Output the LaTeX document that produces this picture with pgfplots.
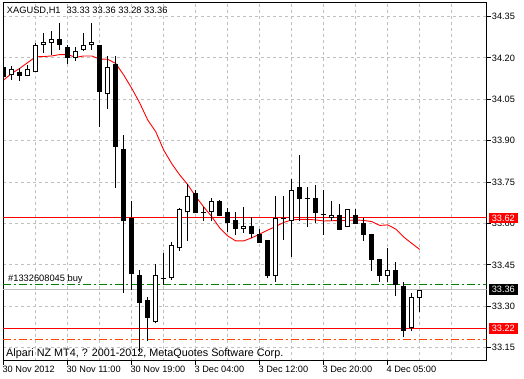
\documentclass[border=0pt]{standalone}
\usepackage{pgfplots}
\pgfplotsset{compat=1.18}
\usepackage{pgfplotstable}
\usepackage{fontspec}
\setmainfont{Liberation Sans}
\definecolor{mtgrid}{RGB}{192,192,192}
\definecolor{mtred}{RGB}{255,0,0}
\definecolor{mtgreen}{RGB}{0,128,0}
\definecolor{mtorange}{RGB}{255,69,0}
\definecolor{mtbid}{RGB}{192,192,192}

% bullish (white) candles
\pgfplotstableread{
i O H L C
1 34.138 34.171 34.120 34.160
3 34.136 34.174 34.134 34.160
4 34.148 34.255 34.148 34.246
5 34.246 34.289 34.217 34.258
6 34.255 34.298 34.211 34.268
9 34.199 34.241 34.189 34.226
10 34.229 34.289 34.225 34.247
11 34.246 34.328 34.229 34.257
13 34.068 34.208 34.015 34.166
19 33.244 33.453 33.238 33.413
21 33.401 33.534 33.395 33.522
22 33.510 33.656 33.501 33.651
23 33.641 33.743 33.538 33.700
26 33.641 33.694 33.610 33.682
30 33.579 33.659 33.565 33.591
34 33.411 33.700 33.389 33.619
36 33.610 33.760 33.480 33.721
41 33.619 33.682 33.610 33.631
43 33.588 33.653 33.586 33.651
48 33.411 33.510 33.389 33.432
51 33.220 33.349 33.212 33.333
52 33.330 33.360 33.280 33.360
}\bull

% bearish (black) candles
\pgfplotstableread{
i O H L C
0 34.167 34.171 34.087 34.131
2 34.150 34.163 34.117 34.136
7 34.268 34.328 34.229 34.246
8 34.238 34.247 34.177 34.199
12 34.247 34.247 33.949 34.078
14 34.178 34.207 33.730 33.878
15 33.869 33.921 33.349 33.610
16 33.619 33.680 33.359 33.417
17 33.413 33.432 33.134 33.311
18 33.323 33.335 33.175 33.259
24 33.712 33.721 33.639 33.639
27 33.682 33.684 33.626 33.628
28 33.643 33.655 33.570 33.601
29 33.613 33.643 33.558 33.580
31 33.591 33.622 33.549 33.561
32 33.561 33.579 33.530 33.530
33 33.540 33.542 33.401 33.410
37 33.731 33.848 33.610 33.689
39 33.691 33.740 33.601 33.639
42 33.631 33.671 33.576 33.576
44 33.631 33.651 33.598 33.598
45 33.601 33.619 33.538 33.558
46 33.562 33.562 33.429 33.468
47 33.471 33.471 33.389 33.410
49 33.432 33.459 33.337 33.377
50 33.374 33.389 33.190 33.212
}\bear

% doji candles
\pgfplotstableread{
i O H L C
20 33.401 33.493 33.377 33.401
25 33.641 33.661 33.610 33.641
35 33.619 33.700 33.540 33.619
38 33.691 33.733 33.588 33.691
40 33.631 33.721 33.558 33.631
}\doji

% moving average
\pgfplotstableread{
i ma
0 34.120
1 34.144
2 34.162
3 34.183
4 34.204
5 34.205
6 34.207
7 34.212
8 34.212
9 34.202
10 34.207
11 34.207
12 34.196
13 34.195
14 34.180
15 34.138
16 34.090
17 34.037
18 33.975
19 33.933
20 33.866
21 33.817
22 33.776
23 33.741
24 33.698
25 33.660
26 33.625
27 33.584
28 33.555
29 33.537
30 33.537
31 33.548
32 33.562
33 33.576
34 33.589
35 33.604
36 33.613
37 33.615
38 33.615
39 33.613
40 33.609
41 33.610
42 33.611
43 33.611
44 33.613
45 33.611
46 33.607
47 33.593
48 33.595
49 33.580
50 33.551
51 33.528
52 33.506
}\ma

\begin{document}
\begin{tikzpicture}[x=1bp,y=1bp]
\useasboundingbox (0,0) rectangle (524,-378);
\begin{axis}[
  at={(3bp,-360.5bp)}, anchor=south west,
  scale only axis, width=483.7bp, height=358.5bp,
  xmin=-0.0875, xmax=60.375, ymin=33.1036, ymax=34.4025,
  axis line style={line width=1bp, black},
  clip mode=individual,
  xtick={0,8,...,48},
  xticklabels={30 Nov 2012,30 Nov 11:00,30 Nov 19:00,3 Dec 04:00,3 Dec 12:00,3 Dec 20:00,4 Dec 05:00},
  minor xtick={4,12,20,28,36,44,52,56},
  ytick={33.15,33.30,33.45,33.60,33.75,33.90,34.05,34.20,34.35},
  yticklabels={33.15,33.30,33.45,33.60,33.75,33.90,34.05,34.20,34.35},
  xtick pos=left, ytick pos=right, yticklabel pos=right,
  tick align=outside, major tick length=4bp, minor tick length=0pt,
  tick style={black, line width=1bp},
  grid=both,
  major grid style={mtgrid, line width=1bp, dash pattern=on 3bp off 3bp},
  minor grid style={mtgrid, line width=1bp, dash pattern=on 3bp off 3bp},
  tick label style={font=\fontsize{9.2bp}{10bp}\selectfont, text=black},
  xticklabel style={anchor=north west, inner sep=0pt, xshift=-1.3bp, yshift=-1.8bp},
  yticklabel style={anchor=west, inner sep=0pt, xshift=1bp},
]
% bid line and moving average
\addplot[mtbid, line width=1bp] coordinates {(-1,33.36) (62,33.36)};
\addplot[mtred, line width=0.9bp] table[x=i, y=ma] {\ma};
% horizontal level lines
\addplot[mtred, line width=1bp] coordinates {(-1,33.62) (62,33.62)};
\addplot[mtred, line width=1bp] coordinates {(-1,33.22) (62,33.22)};
\addplot[mtgreen, line width=1bp, dash pattern=on 8bp off 3bp on 2bp off 3bp] coordinates {(-0.0875,33.38) (62,33.38)};
\addplot[mtorange, line width=1bp, dash pattern=on 8bp off 3bp on 2bp off 3bp] coordinates {(-0.0875,33.18) (62,33.18)};
% wicks
\addplot[black, line width=1bp, quiver={u=0, v=\thisrow{H}-\thisrow{L}}] table[x=i, y=L] {\bull};
\addplot[black, line width=1bp, quiver={u=0, v=\thisrow{H}-\thisrow{L}}] table[x=i, y=L] {\bear};
\addplot[black, line width=1bp, quiver={u=0, v=\thisrow{H}-\thisrow{L}}] table[x=i, y=L] {\doji};
% bodies
\addplot[black, line width=5bp, quiver={u=0, v=\thisrow{C}-\thisrow{O}}] table[x=i, y=O] {\bear};
\addplot[black, line width=5bp, quiver={u=0, v=\thisrow{C}-\thisrow{O}}] table[x=i, y=O] {\bull};
\addplot[white, line width=3bp, quiver={u=0, v=\thisrow{C}-\thisrow{O}-0.0072}] table[x=i, y expr=\thisrow{O}+0.0036] {\bull};
\addplot[black, only marks, mark=-, mark size=2.5bp, mark options={line width=1bp}] table[x=i, y=O] {\doji};
% texts
\node[anchor=west, inner sep=0pt, font=\fontsize{9.3bp}{10bp}\selectfont] at (rel axis cs:0,1) [xshift=3.7bp, yshift=-9bp] {XAGUSD,H1\hspace{6bp}33.33 33.36 33.28 33.36};
\node[anchor=base west, inner sep=0pt, font=\fontsize{9.3bp}{10bp}\selectfont] at (axis cs:-0.0875,33.38) [xshift=5bp, yshift=2.5bp] {\#1332608045 buy};
\node[anchor=base west, inner sep=0pt, font=\fontsize{10.8bp}{12bp}\selectfont] at (rel axis cs:0,0) [xshift=3bp, yshift=4.5bp] {Alpari NZ MT4, ? 2001-2012, MetaQuotes Software Corp.};
\node[anchor=west, fill=mtred, text=white, inner xsep=3.3bp, inner ysep=2bp, font=\fontsize{9.2bp}{10bp}\selectfont] at (axis cs:60.375,33.62) [xshift=1.6bp] {33.62};
\node[anchor=west, fill=black, text=white, inner xsep=3.3bp, inner ysep=2bp, font=\fontsize{9.2bp}{10bp}\selectfont] at (axis cs:60.375,33.36) [xshift=1.6bp] {33.36};
\node[anchor=west, fill=mtred, text=white, inner xsep=3.3bp, inner ysep=2bp, font=\fontsize{9.2bp}{10bp}\selectfont] at (axis cs:60.375,33.22) [xshift=1.6bp] {33.22};
\end{axis}
\end{tikzpicture}
\end{document}
